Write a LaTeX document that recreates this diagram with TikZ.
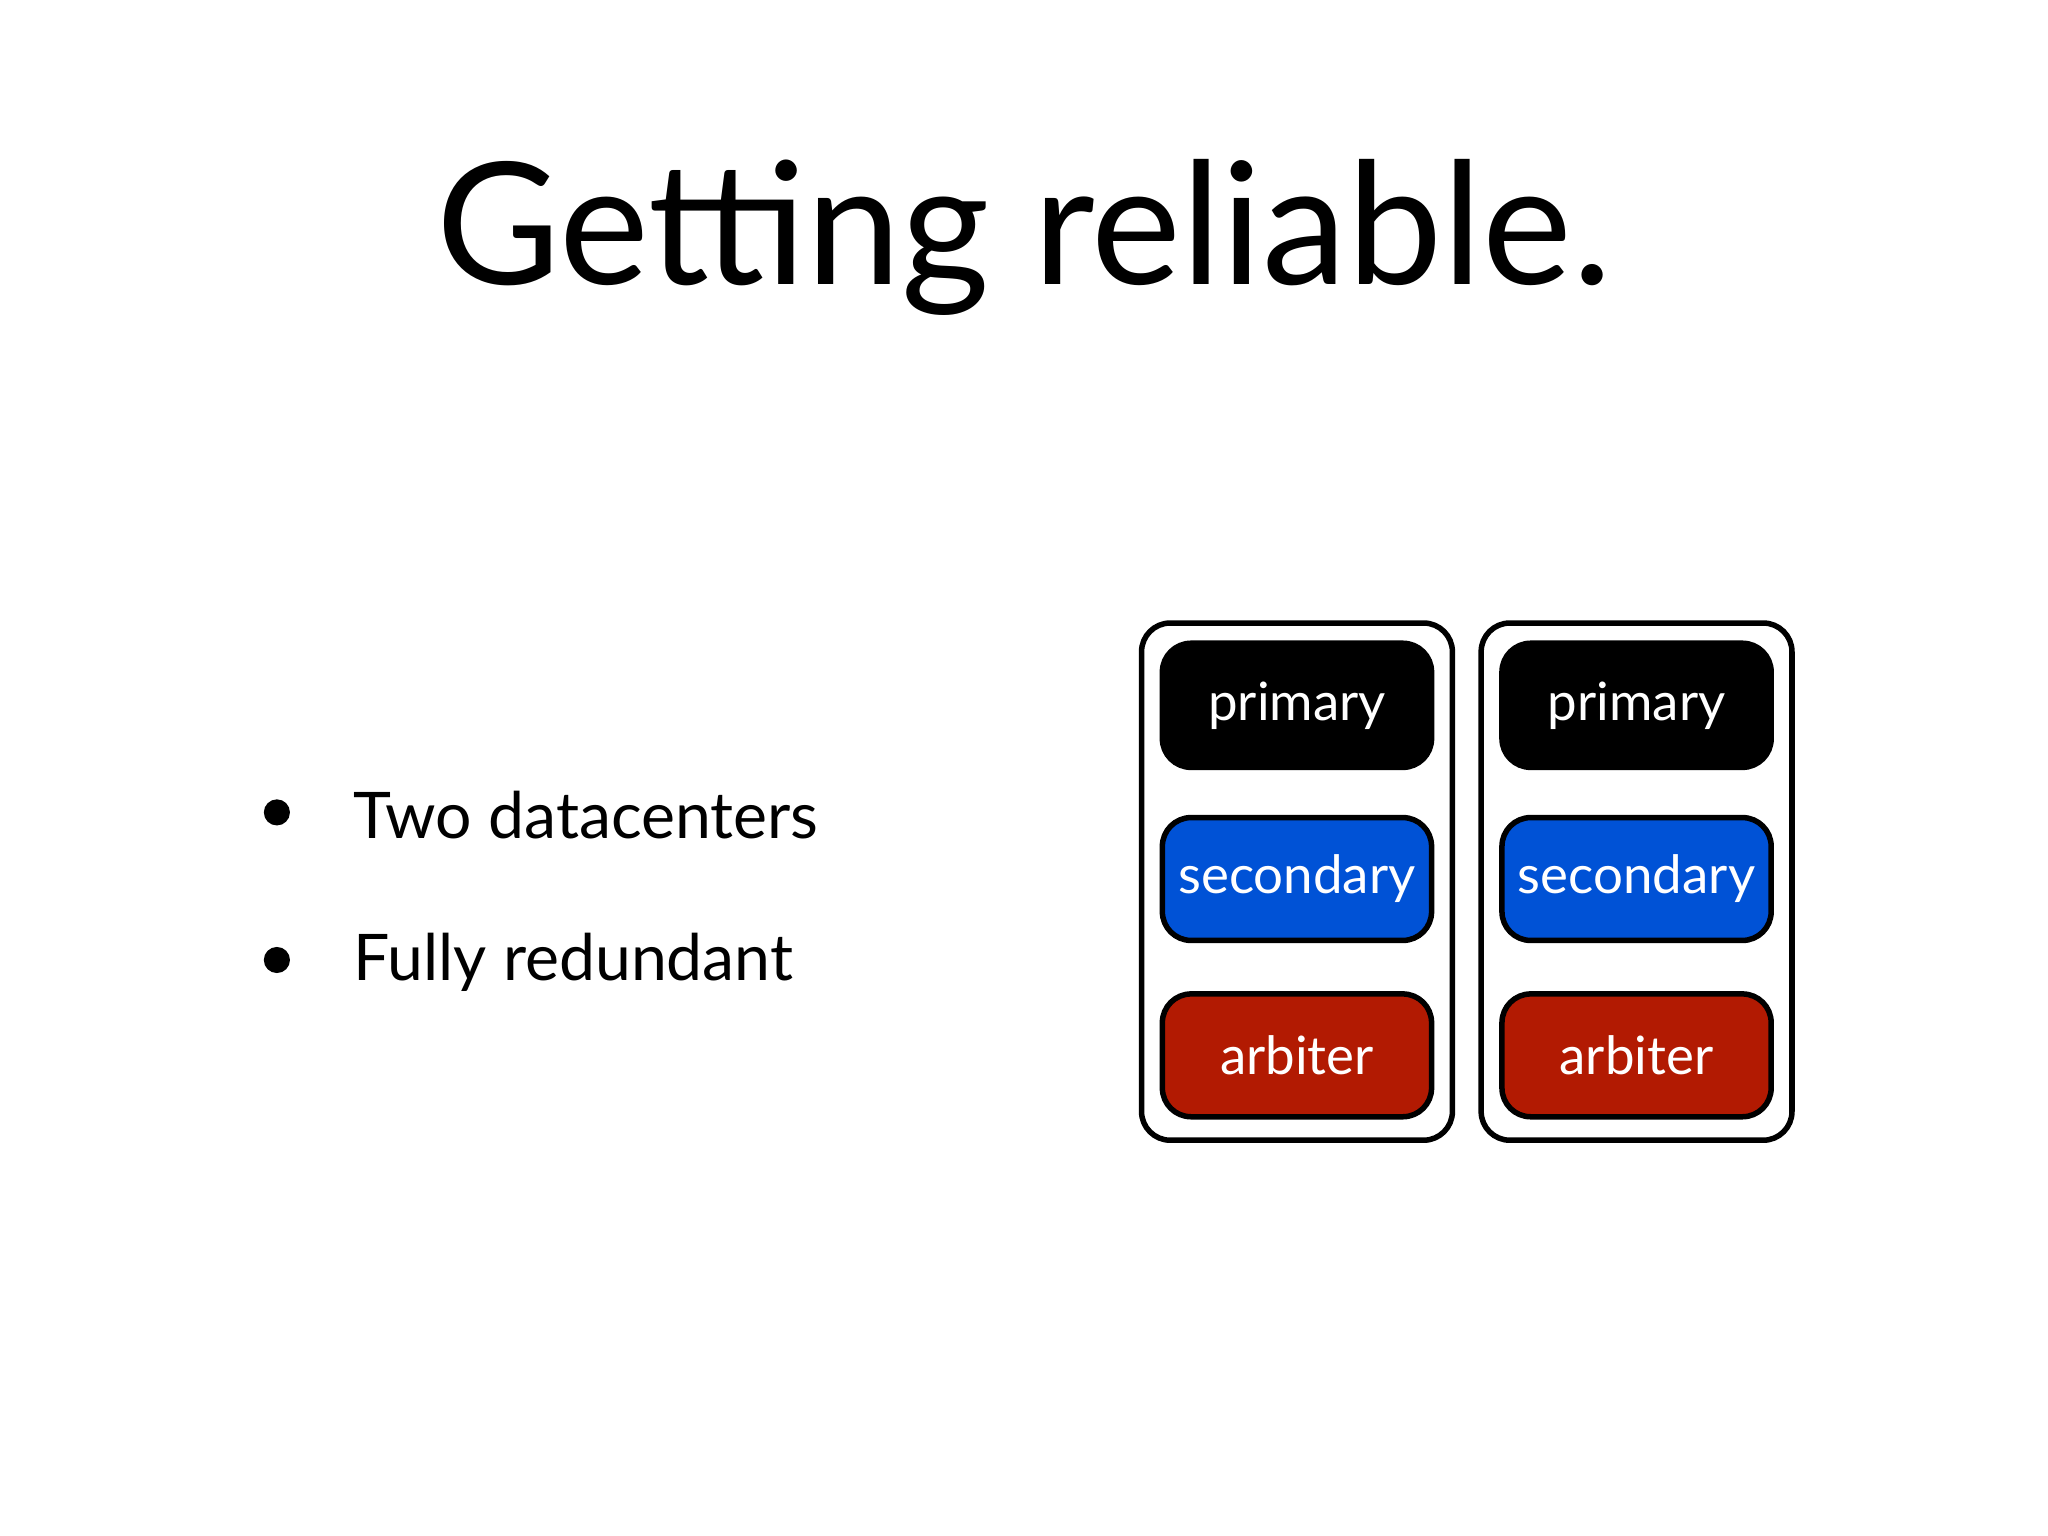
\documentclass[tikz,border=0pt]{standalone}
\usepackage{fontspec}
\setmainfont{Lato}
\definecolor{sblue}{HTML}{0052D6}
\definecolor{ared}{HTML}{B21A02}
\begin{document}
\begin{tikzpicture}[x=0.01cm,y=-0.01cm,
  dc/.style={draw=black,line width=1.2pt,rounded corners=0.22cm,fill=white},
  inner/.style={draw=black,line width=1.2pt,rounded corners=0.22cm,text=white,font=\fontsize{11.5}{13}\selectfont},
  bul/.style={anchor=west,font=\fontsize{14}{16}\selectfont}]
\useasboundingbox (0,0) rectangle (1568,1176);
\node[font=\fontsize{37}{40}\selectfont] (title) at (784,182) {Getting reliable.};
\node[bul] (b1) at (258,624) {Two datacenters};
\node[bul] (b2) at (258,737) {Fully redundant};
\fill (212,622) circle (10);
\fill (212,735) circle (10);
\foreach \x/\n in {874/L,1134/R}{
  \draw[dc] (\x,477) rectangle ++(238,396);
  \node[inner,fill=black,minimum width=2.06cm,minimum height=0.95cm] (p\n) at (\x+119,540) {primary};
  \node[inner,fill=sblue,minimum width=2.06cm,minimum height=0.94cm] (s\n) at (\x+119,673) {secondary};
  \node[inner,fill=ared,minimum width=2.06cm,minimum height=0.94cm] (a\n) at (\x+119,808) {arbiter};
}
\end{tikzpicture}
\end{document}
